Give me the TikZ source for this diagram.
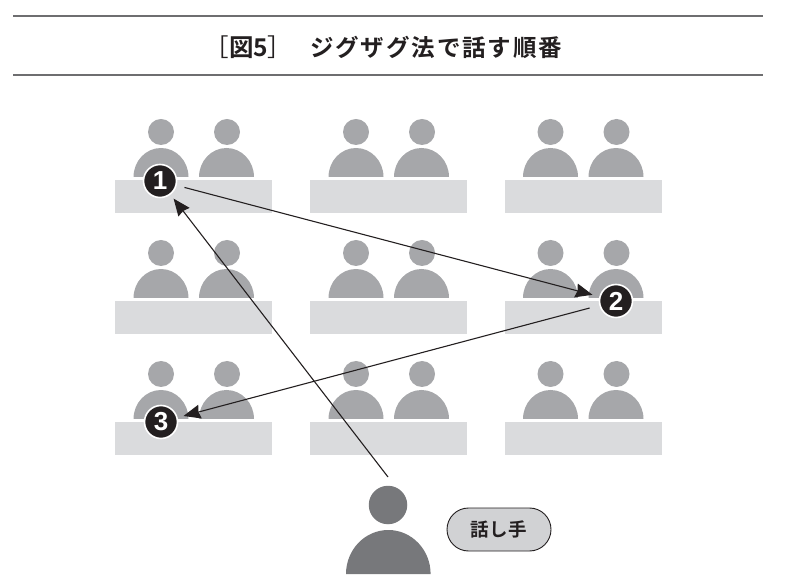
\documentclass[tikz,border=0pt]{standalone}
\usepackage{fontspec}
\newfontfamily\cjk[BoldFont={Noto Sans CJK JP Bold}]{Noto Sans CJK JP}
\newfontfamily\cjkwide[LetterSpace=8,BoldFont={Noto Sans CJK JP Bold}]{Noto Sans CJK JP}
\newfontfamily\cjkpill[LetterSpace=4,BoldFont={Noto Sans CJK JP Bold}]{Noto Sans CJK JP}
\setsansfont{Liberation Sans}
\usetikzlibrary{arrows.meta,positioning,shapes.misc}
\definecolor{seatgray}{HTML}{A6A7AA}
\definecolor{deskgray}{HTML}{DADBDD}
\definecolor{talkgray}{HTML}{77787B}
\definecolor{pillgray}{HTML}{D1D2D4}
\definecolor{rulegray}{HTML}{6E6E70}
\definecolor{inkblack}{HTML}{231F20}

\begin{document}
\begin{tikzpicture}[x=1pt,y=1pt,>={Stealth[length=17pt,width=14pt,inset=1.5pt]},
                    desk node/.style={rectangle,fill=deskgray,minimum width=157pt,minimum height=33pt,inner sep=0pt},
                    head node/.style={circle,fill=seatgray,minimum size=26pt,inner sep=0pt},
                    turn node/.style={circle,fill=inkblack,draw=white,line width=1.6pt,minimum size=33pt,inner sep=0pt,
                                      text=white,font=\sffamily\fontsize{26}{26}\selectfont\bfseries},
                    talk line/.style={->,draw=inkblack,line width=1.1pt},
                    rule line/.style={draw=rulegray,line width=1.3pt}]
  \useasboundingbox (0,0) rectangle (802,586);
  % title
  \coordinate (ruleTopL) at (13,570);
  \coordinate (ruleTopR) at (763,570);
  \coordinate (ruleBotL) at (13,511);
  \coordinate (ruleBotR) at (763,511);
  \draw[rule line] (ruleTopL) -- (ruleTopR);
  \draw[rule line] (ruleBotL) -- (ruleBotR);
  \node[inner sep=0pt,text=inkblack,font=\cjk\fontsize{24.5}{25}\selectfont] (figno) at (248.5,539) {［{\bfseries 図5}］};
  \node[inner sep=0pt,text=inkblack,anchor=west,font=\cjkwide\bfseries\fontsize{23.5}{24}\selectfont] (title) at (310,539) {ジグザグ法で話す順番};
  % desks and listeners
  \foreach \col/\dx in {1/0,2/195,3/389.5}
    \foreach \row/\dy in {1/0,2/121,3/242} {
      \begin{scope}[shift={(\dx,-\dy)}]
        \node[desk node] (desk\col\row) at (193.5,389.5) {};
        \node[head node] (headL\col\row) at (161,454) {};
        \node[head node] (headR\col\row) at (227,454) {};
        \fill[seatgray] (133.5,409) arc[start angle=180,end angle=0,x radius=27.5,y radius=29];
        \fill[seatgray] (199,409) arc[start angle=180,end angle=0,x radius=27.5,y radius=29];
      \end{scope}
    }
  % speaker
  \node[head node,fill=talkgray,minimum size=38.5pt] (speaker) at (388,81) {};
  \fill[talkgray] (346,12) arc[start angle=180,end angle=0,x radius=42.3,y radius=44];
  \node[rounded rectangle,draw=inkblack,fill=pillgray,line width=0.9pt,minimum width=104pt,minimum height=43pt,inner sep=0pt,
        text=inkblack,font=\cjkpill\bfseries\fontsize{18.5}{19}\selectfont] (role) at (499,56.5) {話し手};
  % order of turns
  \node[turn node] (1) at (160,405) {1};
  \node[turn node] (2) at (616,285) {2};
  \node[turn node] (3) at (161,164) {3};
  \coordinate (start) at (388,109);
  \draw[talk line,shorten >=5pt] (start) -- (1);
  \draw[talk line,shorten <=8pt,shorten >=7pt] (1) -- (2);
  \draw[talk line,shorten <=10pt,shorten >=6pt] (2) -- (3);
\end{tikzpicture}
\end{document}
